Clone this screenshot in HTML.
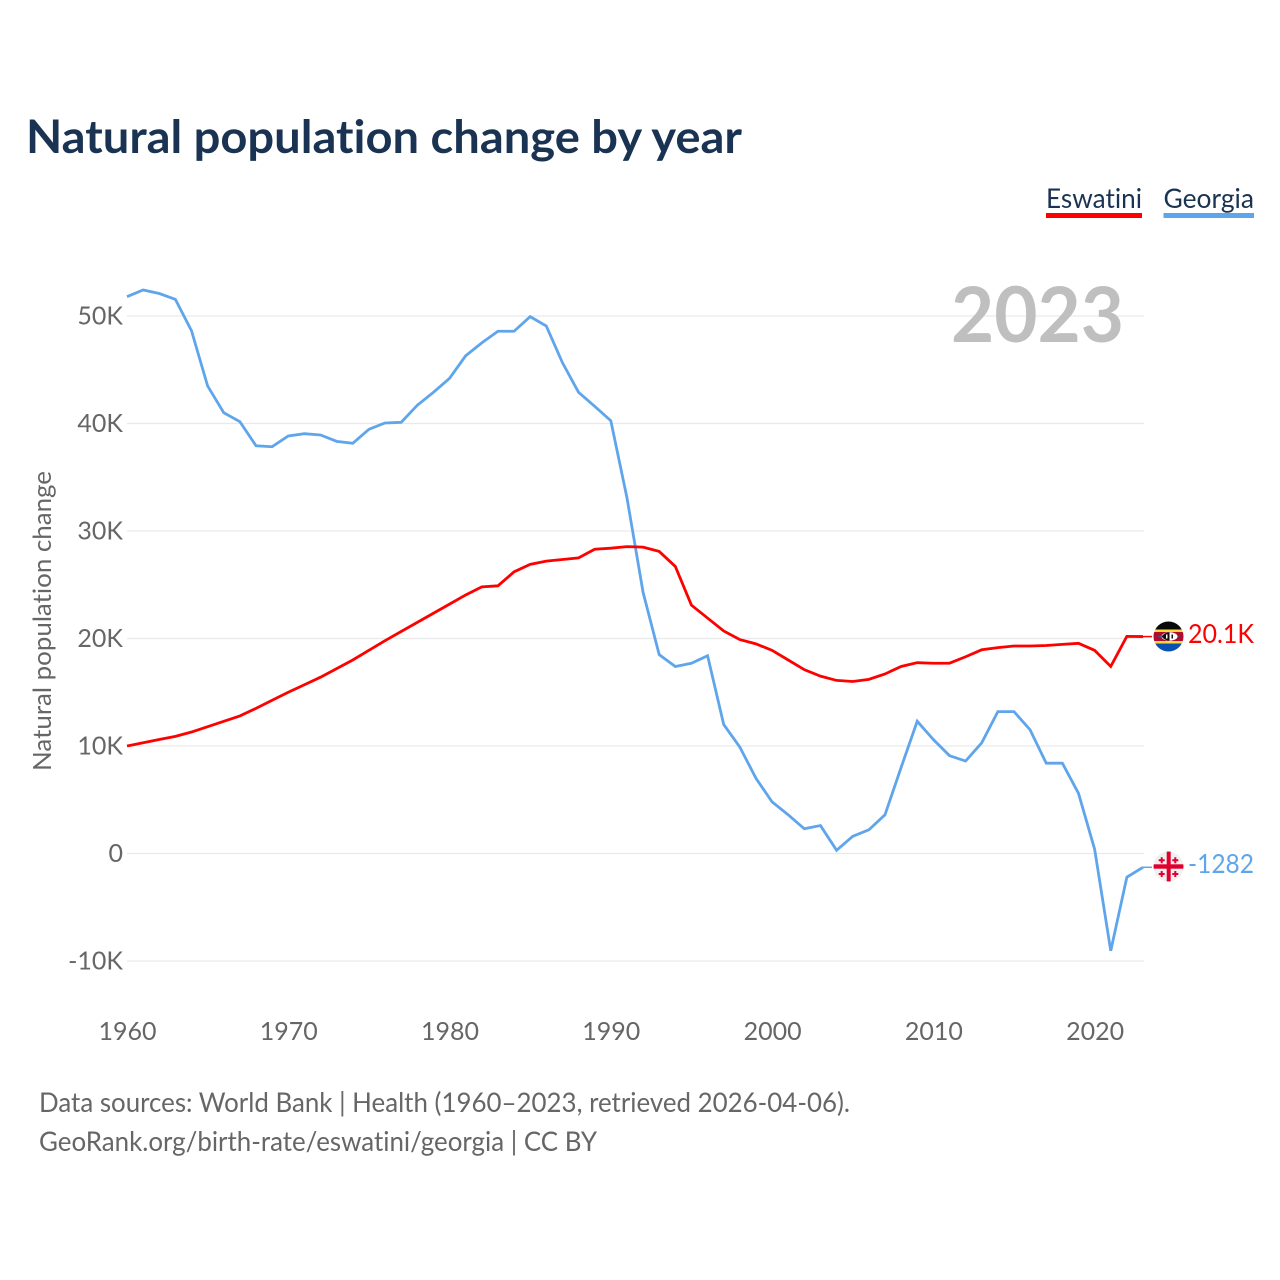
<!DOCTYPE html>
<html lang="en">
<head>
<meta charset="utf-8">
<title>Natural population change by year</title>
<style>
html,body{margin:0;padding:0;background:#fff;}
svg{display:block;}
text{font-family:"Lato","Carlito","Liberation Sans",sans-serif;font-variant-ligatures:none;}
</style>
</head>
<body>
<svg id="chart" xmlns="http://www.w3.org/2000/svg" width="1280" height="1280" viewBox="0 0 1280 1280">
  <rect width="1280" height="1280" fill="#fff"/>
  <g id="grid"></g>
  <text x="1124" y="342" text-anchor="end" font-size="77" font-weight="700" fill="#bfbfbf" textLength="173" lengthAdjust="spacingAndGlyphs">2023</text>
  <text x="26" y="153" font-size="46" font-weight="700" fill="#1a3353" textLength="716" lengthAdjust="spacingAndGlyphs">Natural population change by year</text>
  <g>
    <g>
      <text x="1046" y="208" font-size="27" fill="#1a3353" textLength="96" lengthAdjust="spacingAndGlyphs">Eswatini</text>
      <rect x="1046" y="213" width="96" height="5" fill="#ff0000"/>
    </g>
    <g>
      <text x="1163.500" y="208" font-size="27" fill="#1a3353" textLength="90.500" lengthAdjust="spacingAndGlyphs">Georgia</text>
      <rect x="1163.500" y="213" width="90.500" height="5" fill="#5fa5ec"/>
    </g>
  </g>
  <text transform="translate(51,771) rotate(-90)" font-size="25" fill="#666" textLength="300" lengthAdjust="spacingAndGlyphs">Natural population change</text>
  <g id="yticks"></g>
  <g id="xticks"></g>
  <g id="series"></g>

  <defs>
    <clipPath id="clip-sz"><circle cx="1168.500" cy="636.500" r="15"/></clipPath>
    <clipPath id="clip-ge"><circle cx="1168.500" cy="866.500" r="15"/></clipPath>
  </defs>
  <g clip-path="url(#clip-sz)">
    <rect x="1153" y="621" width="31" height="9" fill="#0a0a0a"/>
    <rect x="1153" y="629.500" width="31" height="2.500" fill="#ffd83d"/>
    <rect x="1153" y="632" width="31" height="9" fill="#b10c2c"/>
    <rect x="1153" y="641" width="31" height="2.500" fill="#ffd83d"/>
    <rect x="1153" y="643.500" width="31" height="9" fill="#0a50b0"/>
    <rect x="1158.500" y="636" width="20" height="1" fill="#2f63b5"/>
    <ellipse cx="1169.500" cy="636.500" rx="8" ry="4.200" fill="#fff"/>
    <path d="M1161.500 636.500 Q1165 632.300 1169.500 632.300 L1169.500 640.700 Q1165 640.700 1161.500 636.500Z" fill="#111"/>
    <rect x="1166" y="634.500" width="1.500" height="4" fill="#fff"/>
    <rect x="1171.500" y="634.500" width="1.500" height="4" fill="#111"/>
  </g>
  <g clip-path="url(#clip-ge)">
    <rect x="1153" y="851" width="31" height="31" fill="#f0f0f0"/>
    <rect x="1166.700" y="851" width="4" height="31" fill="#e0002d"/>
    <rect x="1153" y="864.300" width="31" height="4.400" fill="#e0002d"/>
    <path d="M1158.700 859.200h2v-2h2v2h2v2h-2v2h-2v-2h-2zM1172.300 859.200h2v-2h2v2h2v2h-2v2h-2v-2h-2zM1158.700 873h2v-2h2v2h2v2h-2v2h-2v-2h-2zM1172.300 873h2v-2h2v2h2v2h-2v2h-2v-2h-2z" fill="#e0002d"/>
  </g>

  <text x="1188" y="643" font-size="26" fill="#ff0000" textLength="66" lengthAdjust="spacingAndGlyphs">20.1K</text>
  <text x="1188" y="873" font-size="26" fill="#5fa5ec" textLength="66" lengthAdjust="spacingAndGlyphs">-1282</text>

  <text x="39" y="1112" font-size="27" fill="#666" textLength="811" lengthAdjust="spacingAndGlyphs">Data sources: World Bank | Health (1960–2023, retrieved 2026-04-06).</text>
  <text x="39" y="1151" font-size="27" fill="#666" textLength="558" lengthAdjust="spacingAndGlyphs">GeoRank.org/birth-rate/eswatini/georgia | CC BY</text>
</svg>
<script>
const firstYear = 1960;
const eswatiniValues = [10.0,10.3,10.6,10.9,11.3,11.8,12.3,12.8,13.5,14.25,15.0,15.7,16.4,17.2,18.0,18.9,19.8,20.65,21.5,22.35,23.2,24.05,24.8,24.9,26.2,26.9,27.2,27.35,27.5,28.3,28.4,28.55,28.5,28.1,26.7,23.1,21.9,20.7,19.9,19.5,18.9,18.0,17.1,16.5,16.1,16.0,16.2,16.7,17.4,17.75,17.7,17.7,18.3,18.95,19.15,19.3,19.3,19.35,19.45,19.55,18.9,17.4,20.2,20.18];
const georgiaValues = [51.8,52.42,52.09,51.55,48.63,43.49,41.0,40.17,37.93,37.84,38.84,39.05,38.93,38.34,38.16,39.46,40.05,40.11,41.7,42.9,44.2,46.3,47.5,48.58,48.58,49.94,49.07,45.66,42.9,41.6,40.26,33.1,24.3,18.5,17.4,17.7,18.4,12.0,9.9,7.0,4.8,3.6,2.3,2.6,0.3,1.6,2.2,3.6,8.0,12.3,10.6,9.1,8.6,10.3,13.2,13.2,11.5,8.4,8.4,5.6,0.4,-9.05,-2.2,-1.282];
const yTickValues = [-10,0,10,20,30,40,50];
const yTickLabels = ["-10K","0","10K","20K","30K","40K","50K"];
const xTickValues = [1960,1970,1980,1990,2000,2010,2020];

const NS = "http://www.w3.org/2000/svg";
function xScale(year){ return 127 + (year - 1960) * (1143 - 127) / 63; }
function yScale(v){ return 853.5 - v * 10.75; }
function make(tag, attrs, parent){
  const el = document.createElementNS(NS, tag);
  for (const k in attrs) el.setAttribute(k, attrs[k]);
  parent.appendChild(el);
  return el;
}
const grid = document.getElementById("grid");
const yticks = document.getElementById("yticks");
const xticks = document.getElementById("xticks");
const seriesGroup = document.getElementById("series");

yTickValues.forEach(function(v, i){
  const y = yScale(v);
  const line = make("line", {x1:127, x2:1144, y1:y, y2:y, stroke:"#e9e9e9", "stroke-width":1.300}, grid);
  
  
  const t = make("text", {x:123, y:y + 8.500, "text-anchor":"end", "font-size":25, fill:"#666"}, yticks);
  
  
  t.textContent = yTickLabels[i];
});

xTickValues.forEach(function(year){
  const t = make("text", {x:xScale(year) + 0.500, y:1040, "text-anchor":"middle", "font-size":25, fill:"#666"}, xticks);
  
  
  t.textContent = String(year);
});

function drawSeries(values, color){
  const pts = values.map(function(v, i){ return xScale(firstYear + i).toFixed(2) + "," + yScale(v).toFixed(2); });
  return make("polyline", {points:pts.join(" "), fill:"none", stroke:color, "stroke-width":2.800, "stroke-linejoin":"miter"}, seriesGroup);
}
function drawLeader(values, color){
  const y = yScale(values[values.length - 1]);
  return make("line", {x1:1143, x2:1152, y1:y, y2:y, stroke:color, "stroke-width":1.500}, seriesGroup);
}
const georgiaLine = drawSeries(georgiaValues, "#5fa5ec");


const eswatiniLine = drawSeries(eswatiniValues, "#ff0000");


const georgiaLeader = drawLeader(georgiaValues, "#5fa5ec");


const eswatiniLeader = drawLeader(eswatiniValues, "#ff0000");


</script>
</body>
</html>
